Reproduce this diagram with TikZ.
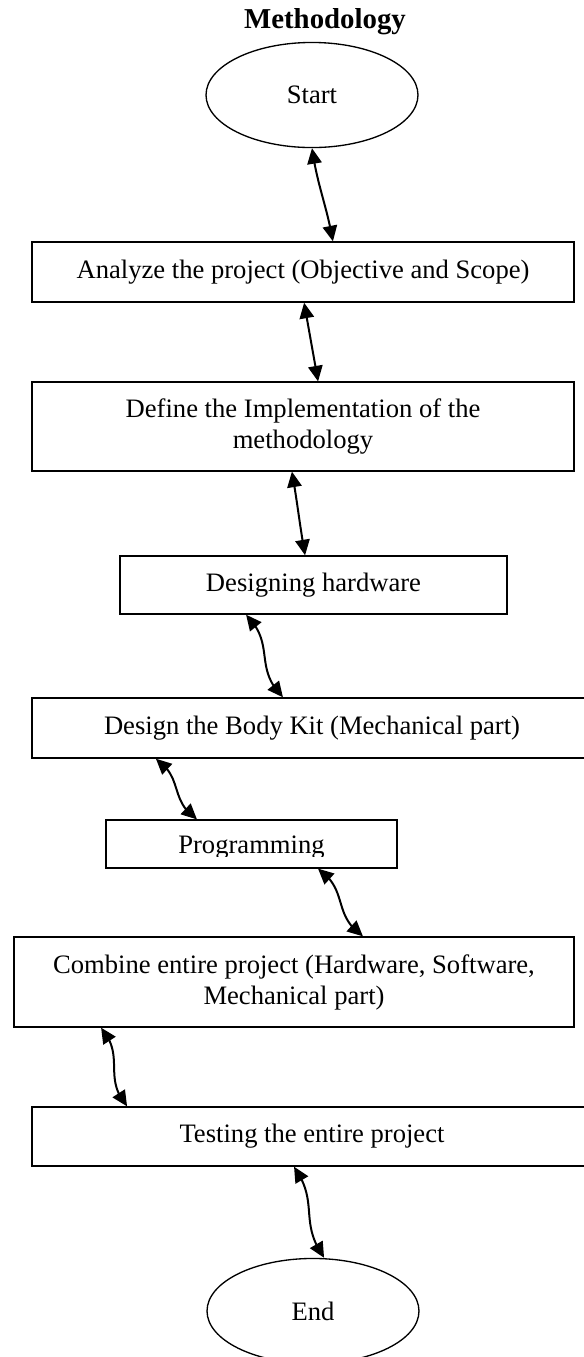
\documentclass[tikz,border=0pt]{standalone}
\usepackage{fontspec}
\setmainfont{Liberation Serif}
\usetikzlibrary{arrows.meta, bending, shapes.geometric}

\begin{document}
\begin{tikzpicture}[x=0.451pt, y=0.451pt,
    box/.style={draw, semithick, rectangle, inner sep=0pt, align=center,
      font=\fontsize{12}{14}\selectfont},
    oval/.style={draw, semithick, ellipse, inner sep=0pt,
      minimum width=95.6pt, minimum height=47.4pt,
      font=\fontsize{12}{14}\selectfont},
    link/.style={{Triangle[length=7pt,width=6.5pt]}-{Triangle[length=7pt,width=6.5pt]}, line width=0.9pt}]
  \useasboundingbox (0,0) rectangle (584,-1357);

  % title and end points
  \node[anchor=base, font=\fontsize{13}{15}\selectfont\bfseries] (title) at (325,-28) {Methodology};
  \node[oval] (start) at (312,-95) {Start};
  \node[oval] (finish) at (313,-1311) {End};

  % steps
  \node[box, minimum width=244.4pt, minimum height=27.1pt] (analyze) at (303,-272)
    {Analyze the project (Objective and Scope)};
  \node[box, minimum width=244.4pt, minimum height=40.1pt] (define) at (303,-426.5)
    {Define the Implementation of the\\methodology};
  \node[box, minimum width=174.5pt, minimum height=26.2pt] (hardware) at (313.5,-585)
    {Designing hardware};
  \node[box, minimum width=252.6pt, minimum height=27.1pt] (bodykit) at (312,-728)
    {Design the Body Kit (Mechanical part)};
  \node[box, minimum width=131.2pt, minimum height=21.6pt] (program) at (251.5,-844) {};
  \begin{scope}
    \clip (106,-820) rectangle (397,-856);
    \node[anchor=base, font=\fontsize{12}{14}\selectfont] (programtext) at (251.5,-853) {Programming};
  \end{scope}
  \node[box, minimum width=252.6pt, minimum height=40.6pt] (combine) at (294,-982)
    {Combine entire project (Hardware, Software,\\Mechanical part)};
  \node[box, minimum width=252.6pt, minimum height=26.6pt] (testing) at (312,-1136.5)
    {Testing the entire project};

  % connectors
  \draw[link] (start.south) to[out=-82, in=100] ([xshift=13.5pt]analyze.north);
  \draw[link] ([xshift=0.5pt]analyze.south) to[out=-80, in=100] ([xshift=6.8pt]define.north);
  \draw[link] ([xshift=-5pt]define.south) to[out=-80, in=100] ([xshift=-3.8pt]hardware.north);
  \draw[link] ([xshift=-30.4pt]hardware.south) to[out=-45, in=135, looseness=1.2] ([xshift=-13.1pt]bodykit.north);
  \draw[link] ([xshift=-70.4pt]bodykit.south) to[out=-35, in=145, looseness=1.2] ([xshift=-24.6pt]program.north);
  \draw[link] ([xshift=30pt]program.south) to[out=-35, in=145, looseness=1.2] ([xshift=31.1pt]combine.north);
  \draw[link] ([xshift=-87pt]combine.south) to[out=-50, in=130, looseness=1.2] ([xshift=-83.4pt]testing.north);
  \draw[link] ([xshift=-8.1pt]testing.south) to[out=-55, in=125, looseness=1.2] ([xshift=5pt]finish.north);
\end{tikzpicture}
\end{document}
